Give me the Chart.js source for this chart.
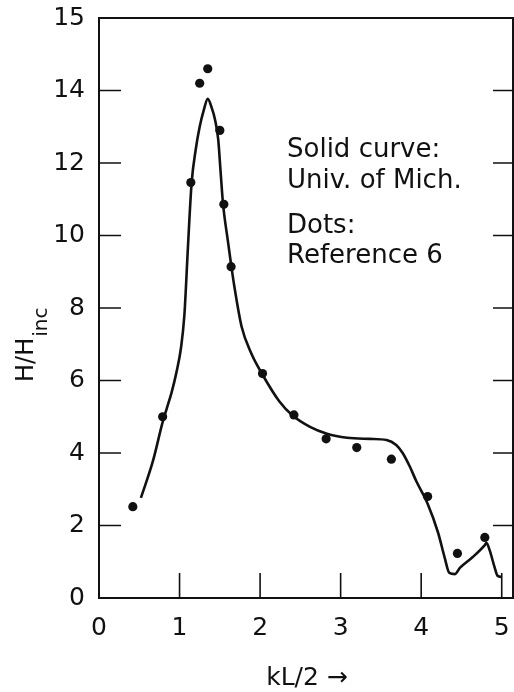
<!DOCTYPE html>
<html>
<head>
<meta charset="utf-8">
<title>H/Hinc vs kL/2</title>
<script src="https://cdn.jsdelivr.net/npm/chart.js@4.4.0/dist/chart.umd.min.js"></script>
<style>
  html, body { margin: 0; padding: 0; background: #fff; overflow: hidden; }
  #wrap { width: 514px; height: 692px; }
</style>
</head>
<body>
<div id="wrap"><canvas id="chart"></canvas></div>
<script>
// solid curve (Univ. of Mich.)
const curveX = [0.52, 0.67, 0.79, 0.84, 0.90, 0.96, 1.02, 1.06, 1.08, 1.10, 1.15, 1.20, 1.25, 1.30, 1.35, 1.40, 1.44, 1.48, 1.51, 1.54, 1.60, 1.64, 1.68, 1.77, 1.89, 2.02, 2.24, 2.40, 2.62, 2.83, 3.08, 3.36, 3.57, 3.69, 3.77, 3.86, 3.94, 4.08, 4.21, 4.29, 4.35, 4.42, 4.48, 4.64, 4.79, 4.81, 4.85, 4.91, 4.95, 5.00];
const curveY = [2.76, 3.78, 4.85, 5.22, 5.66, 6.21, 6.93, 7.80, 8.60, 9.50, 11.45, 12.36, 13.00, 13.45, 13.77, 13.52, 13.20, 12.65, 11.75, 10.87, 9.85, 9.20, 8.60, 7.49, 6.75, 6.20, 5.42, 5.04, 4.72, 4.53, 4.42, 4.39, 4.36, 4.22, 4.00, 3.62, 3.22, 2.60, 1.80, 1.13, 0.69, 0.66, 0.83, 1.13, 1.46, 1.52, 1.32, 0.86, 0.61, 0.58];

// dots (Reference 6)
const dotsX = [0.42, 0.79, 1.14, 1.25, 1.35, 1.50, 1.55, 1.64, 2.03, 2.42, 2.82, 3.20, 3.63, 4.08, 4.45, 4.79];
const dotsY = [2.52, 5.00, 11.46, 14.20, 14.60, 12.90, 10.86, 9.14, 6.19, 5.05, 4.39, 4.15, 3.83, 2.80, 1.23, 1.67];

const xTicks = [0, 1, 2, 3, 4, 5];
const yTicks = [0, 2, 4, 6, 8, 10, 12, 14, 16];
const yTickLabels = ["0", "2", "4", "6", "8", "10", "12", "14", "15"];
const notes = ["Solid curve:", "Univ. of Mich.", "Dots:", "Reference 6"];
const xTitle = "kL/2 \u2192";

const FONT = "'DejaVu Sans', sans-serif";

// frame, inward tick marks and the texts
const decor = {
  id: "decor",
  beforeDatasetsDraw(chart) {
    const { ctx, chartArea: a, scales } = chart;
    ctx.save();
    ctx.strokeStyle = "#111";
    ctx.lineWidth = 2;
    ctx.beginPath();
    ctx.moveTo(a.left, a.top);
    ctx.lineTo(a.right, a.top);
    ctx.lineTo(a.right, a.bottom);
    ctx.lineTo(a.left, a.bottom);
    ctx.closePath();
    ctx.stroke();

    ctx.lineWidth = 1.6;
    ctx.beginPath();
    xTicks.slice(1).forEach((v) => {
      const px = scales.x.getPixelForValue(v);
      ctx.moveTo(px, a.bottom);
      ctx.lineTo(px, a.bottom - 25);
    });
    yTicks.slice(1, -1).forEach((v) => {
      const py = scales.y.getPixelForValue(v);
      ctx.moveTo(a.left, py);
      ctx.lineTo(a.left + 22, py);
      ctx.moveTo(a.right, py);
      ctx.lineTo(a.right - 20, py);
    });
    ctx.stroke();
    ctx.restore();
  },
  afterDraw(chart) {
    const { ctx } = chart;
    ctx.save();
    ctx.fillStyle = "#111";
    ctx.textAlign = "left";
    ctx.textBaseline = "alphabetic";

    // notes in the plot
    ctx.font = "26px " + FONT;
    const base = [157, 188, 233, 263];
    notes.forEach((t, i) => ctx.fillText(t, 287, base[i]));

    // x title
    ctx.font = "25px " + FONT;
    ctx.textAlign = "center";
    ctx.fillText(xTitle, 307, 685);

    // y title with subscript
    ctx.translate(33, 382);
    ctx.rotate(-Math.PI / 2);
    ctx.textAlign = "left";
    ctx.font = "24px " + FONT;
    ctx.fillText("H/H", 0, 0);
    const w = ctx.measureText("H/H").width;
    ctx.font = "20px " + FONT;
    ctx.fillText("inc", w + 1, 14);
    ctx.restore();
  },
};

new Chart(document.getElementById("chart").getContext("2d"), {
  type: "scatter",
  data: {
    datasets: [
      {
        label: "Univ. of Mich.",
        data: curveX.map((x, i) => ({ x, y: curveY[i] })),
        showLine: true,
        borderColor: "#111",
        borderWidth: 2.6,
        pointRadius: 0,
        cubicInterpolationMode: "monotone",
      },
      {
        label: "Reference 6",
        data: dotsX.map((x, i) => ({ x, y: dotsY[i] })),
        backgroundColor: "#111",
        borderWidth: 0,
        pointRadius: 4.6,
      },
    ],
  },
  options: {
    animation: false,
    responsive: true,
    maintainAspectRatio: false,
    layout: { autoPadding: false, padding: { top: 18, right: 1, left: 0, bottom: 0 } },
    plugins: { legend: { display: false }, tooltip: { enabled: false } },
    scales: {
      x: {
        type: "linear",
        min: 0,
        max: 5.14,
        afterBuildTicks: (s) => { s.ticks = xTicks.map((v) => ({ value: v })); },
        afterFit: (s) => {
          s.height = 94;
          s.paddingLeft = 0;
          s.paddingRight = 0;
        },
        grid: { display: false, drawTicks: false },
        border: { display: false },
        ticks: { color: "#111", padding: 15, font: { family: FONT, size: 25 }, maxRotation: 0 },
      },
      y: {
        type: "linear",
        min: 0,
        max: 16,
        afterBuildTicks: (s) => { s.ticks = yTicks.map((v) => ({ value: v })); },
        afterFit: (s) => {
          s.width = 99;
          s.paddingTop = 0;
          s.paddingBottom = 0;
        },
        grid: { display: false, drawTicks: false },
        border: { display: false },
        ticks: {
          color: "#111",
          padding: 14,
          font: { family: FONT, size: 25 },
          callback: (v, i) => yTickLabels[i],
        },
      },
    },
  },
  plugins: [decor],
});
</script>
</body>
</html>
